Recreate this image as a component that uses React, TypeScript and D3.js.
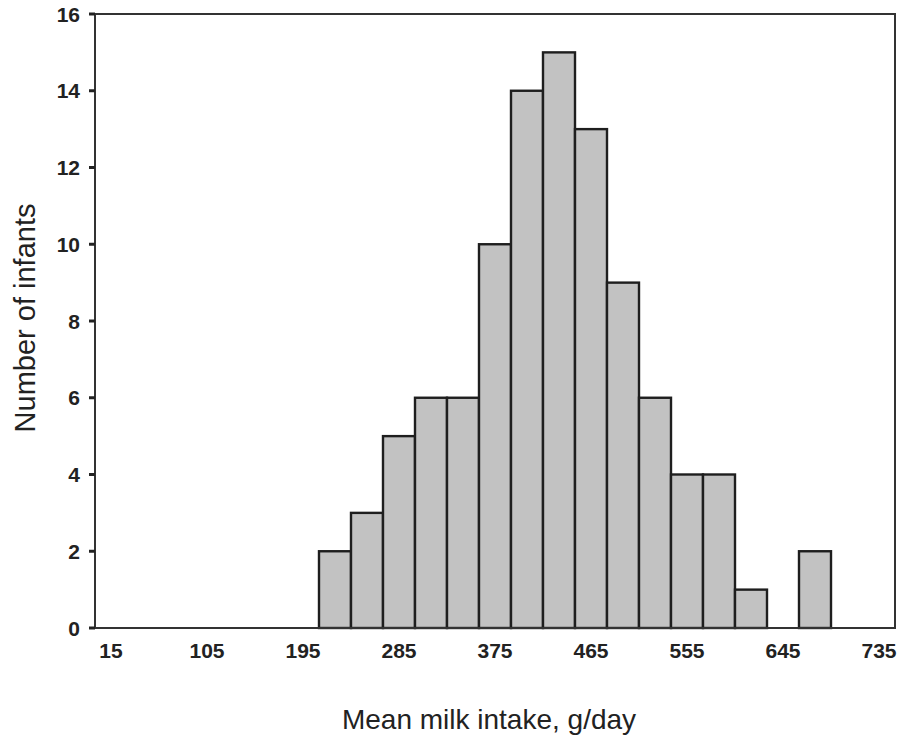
import React from "react";
import * as d3 from "d3";

const binStarts = [210, 240, 270, 300, 330, 360, 390, 420, 450, 480, 510, 540, 570, 600, 630, 660];
const counts = [2, 3, 5, 6, 6, 10, 14, 15, 13, 9, 6, 4, 4, 1, 0, 2];
const binWidth = 30;
const xTickValues = [15, 105, 195, 285, 375, 465, 555, 645, 735];
const yTickValues = [0, 2, 4, 6, 8, 10, 12, 14, 16];

export default function App() {
  const W = 900, H = 737;
  const left = 95, right = 895, top = 14, bottom = 628;
  const x = d3.scaleLinear().domain([0, 750]).range([left, right]);
  const y = d3.scaleLinear().domain([0, 16]).range([bottom, top]);
  const font = "'Liberation Sans', Arial, Helvetica, sans-serif";
  return (
    <svg width={W} height={H} style={{ position: "absolute", left: 0, top: 0, background: "#fff" }}>
      <rect x={0} y={0} width={W} height={H} fill="#fff" />
      {binStarts.map((b, i) =>
        counts[i] > 0 ? (
          <rect
            key={b}
            x={x(b)}
            y={y(counts[i])}
            width={x(b + binWidth) - x(b)}
            height={y(0) - y(counts[i])}
            fill="#c2c2c2"
            stroke="#1e1e1e"
            strokeWidth={2.4}
          />
        ) : null
      )}
      <rect x={left} y={top} width={right - left} height={bottom - top} fill="none" stroke="#333" strokeWidth={2} />
      {yTickValues.map((v) => (
        <g key={v}>
          <line x1={left - 6} x2={left} y1={y(v)} y2={y(v)} stroke="#222" strokeWidth={3} />
          <text x={80} y={y(v)} dy="0.36em" textAnchor="end" fontFamily={font} fontWeight="bold" fontSize={21} fill="#222">
            {v}
          </text>
        </g>
      ))}
      {xTickValues.map((v) => (
        <text key={v} x={x(v)} y={658} textAnchor="middle" fontFamily={font} fontWeight="bold" fontSize={21} fill="#222">
          {v}
        </text>
      ))}
      <text x={489} y={729} textAnchor="middle" fontFamily={font} fontSize={28} fill="#222">
        Mean milk intake, g/day
      </text>
      <text
        transform={`translate(35, 318) rotate(-90)`}
        textAnchor="middle"
        fontFamily={font}
        fontSize={29}
        fill="#222"
      >
        Number of infants
      </text>
    </svg>
  );
}
